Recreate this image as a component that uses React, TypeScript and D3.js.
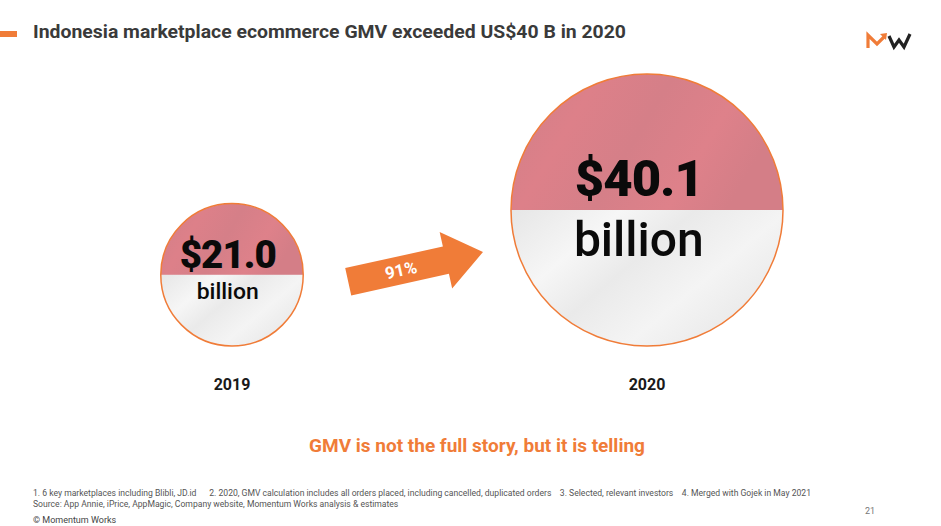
import * as React from 'react';
import * as d3 from 'd3';

const years = ['2019', '2020'];
const gmvValues = [21.0, 40.1];
const valueLabels = ['$21.0', '$40.1'];
const unitLabel = 'billion';
const growthLabel = '91%';

const titleText = 'Indonesia marketplace ecommerce GMV exceeded US$40 B in 2020';
const takeaway = 'GMV is not the full story, but it is telling';
const footnotes = [
    '1. 6 key marketplaces including Blibli, JD.id      2. 2020, GMV calculation includes all orders placed, including cancelled, duplicated orders    3. Selected, relevant investors    4. Merged with Gojek in May 2021',
    'Source: App Annie, iPrice, AppMagic, Company website, Momentum Works analysis & estimates',
];
const copyright = '© Momentum Works';
const pageNumber = '21';

const width = 941;
const height = 526;
const orange = '#F07C38';
const baseY = 346;
const font = "'Roboto', 'Inter', sans-serif";

const App = () => {
    const rScale = d3.scaleLinear().domain([0, 40.1]).range([0, 136]);
    const xScale = d3.scalePoint<string>().domain(years).range([232, 647]);

    const circles = years.map((y, i) => {
        const r = rScale(gmvValues[i]);
        return { year: y, label: valueLabels[i], r, cx: xScale(y) as number, cy: baseY - r };
    });

    // arrow between the two circles
    const a = circles[0], b = circles[1];
    const tail: [number, number] = [a.cx + a.r + 45, a.cy + 7];
    const tip: [number, number] = [b.cx - b.r - 28, b.cy + 42];
    const ang = Math.atan2(tip[1] - tail[1], tip[0] - tail[0]) * 180 / Math.PI;
    const len = Math.hypot(tip[0] - tail[0], tip[1] - tail[1]);
    const shaftHalf = 14, headHalf = 29, headLen = 38;
    const arrowPts: [number, number][] = [
        [0, -shaftHalf], [len - headLen, -shaftHalf], [len - headLen, -headHalf],
        [len, 0], [len - headLen, headHalf], [len - headLen, shaftHalf], [0, shaftHalf],
    ];
    const arrowPath = d3.line()(arrowPts) + 'Z';

    return (
        <svg width={width} height={height} style={{ position: 'absolute', left: 0, top: 0, background: '#fff' }}>
            <defs>
                <linearGradient id="redWave" x1="0" y1="0" x2="1" y2="0.3">
                    <stop offset="0" stopColor="#CF7F88" />
                    <stop offset="0.3" stopColor="#DD8089" />
                    <stop offset="0.55" stopColor="#D57F88" />
                    <stop offset="0.8" stopColor="#DE818A" />
                    <stop offset="1" stopColor="#D47E87" />
                </linearGradient>
                <linearGradient id="whiteWave" x1="0" y1="0" x2="1" y2="0.6">
                    <stop offset="0" stopColor="#E6E6E6" />
                    <stop offset="0.3" stopColor="#F6F6F6" />
                    <stop offset="0.5" stopColor="#EAEAEA" />
                    <stop offset="0.75" stopColor="#F4F4F4" />
                    <stop offset="1" stopColor="#E9E9E9" />
                </linearGradient>
                {circles.map((c, i) => (
                    <clipPath id={`clip${i}`} key={i}>
                        <circle cx={c.cx} cy={c.cy} r={c.r} />
                    </clipPath>
                ))}
            </defs>

            {/* header */}
            <rect x={0} y={31} width={17} height={6} fill={orange} />
            <text x={33} y={38} fontFamily={font} fontWeight={700} fontSize={19} fill="#3A3A3A"
                textLength={593} lengthAdjust="spacingAndGlyphs">{titleText}</text>

            {/* logo */}
            <path d="M868,48 L868,35 L877,44 L884,37" fill="none" stroke={orange} strokeWidth={3.2} strokeLinejoin="miter" />
            <path d="M880,34 L887,33 L886,40 Z" fill={orange} />
            <path d="M889,36 L894,47 L899,40 L904,47 L910,34" fill="none" stroke="#222" strokeWidth={3.2} strokeLinejoin="miter" />

            {/* bubbles */}
            {circles.map((c, i) => {
                const valueSize = 25 + c.r * 0.19;
                const unitSize = c.r * 0.387 - 4.6;
                const tx = c.cx - c.r * 0.06;
                return (
                    <g key={c.year}>
                        <g clipPath={`url(#clip${i})`}>
                            <rect x={c.cx - c.r} y={c.cy - c.r} width={c.r * 2} height={c.r + 0.5} fill="url(#redWave)" />
                            <rect x={c.cx - c.r} y={c.cy} width={c.r * 2} height={c.r} fill="url(#whiteWave)" />
                        </g>
                        <circle cx={c.cx} cy={c.cy} r={c.r} fill="none" stroke={orange} strokeWidth={1.5} />
                        <text x={tx} y={c.cy - c.r * 0.1} textAnchor="middle" fontFamily={font} fontWeight={900}
                            fontSize={valueSize} letterSpacing={-1} fill="#0A0A0A">{c.label}</text>
                        <text x={tx} y={c.cy + c.r * 0.335} textAnchor="middle" fontFamily={font} fontWeight={500}
                            fontSize={unitSize} fill="#0A0A0A">{unitLabel}</text>
                        <text x={c.cx} y={390} textAnchor="middle" fontFamily={font} fontWeight={700}
                            fontSize={16} fill="#1A1A1A">{c.year}</text>
                    </g>
                );
            })}

            {/* growth arrow */}
            <g transform={`translate(${tail[0]},${tail[1]}) rotate(${ang})`}>
                <path d={arrowPath} fill={orange} />
                <text x={(len - headLen) / 2 + 4} y={6} textAnchor="middle" fontFamily={font} fontWeight={700}
                    fontSize={17} fill="#fff">{growthLabel}</text>
            </g>

            {/* takeaway */}
            <text x={477} y={452} textAnchor="middle" fontFamily={font} fontWeight={700} fontSize={19} fill={orange}>{takeaway}</text>

            {/* footer */}
            {footnotes.map((f, i) => (
                <text key={i} x={33} y={496 + i * 11} fontFamily={font} fontSize={8.6} fill="#555"
                    xmlSpace="preserve" style={{ whiteSpace: 'pre' }}>{f}</text>
            ))}
            <text x={33} y={523} fontFamily={font} fontSize={9} fill="#444">{copyright}</text>
            <text x={870} y={514} textAnchor="middle" fontFamily={font} fontSize={9} fill="#777">{pageNumber}</text>
        </svg>
    );
};

export default App;
